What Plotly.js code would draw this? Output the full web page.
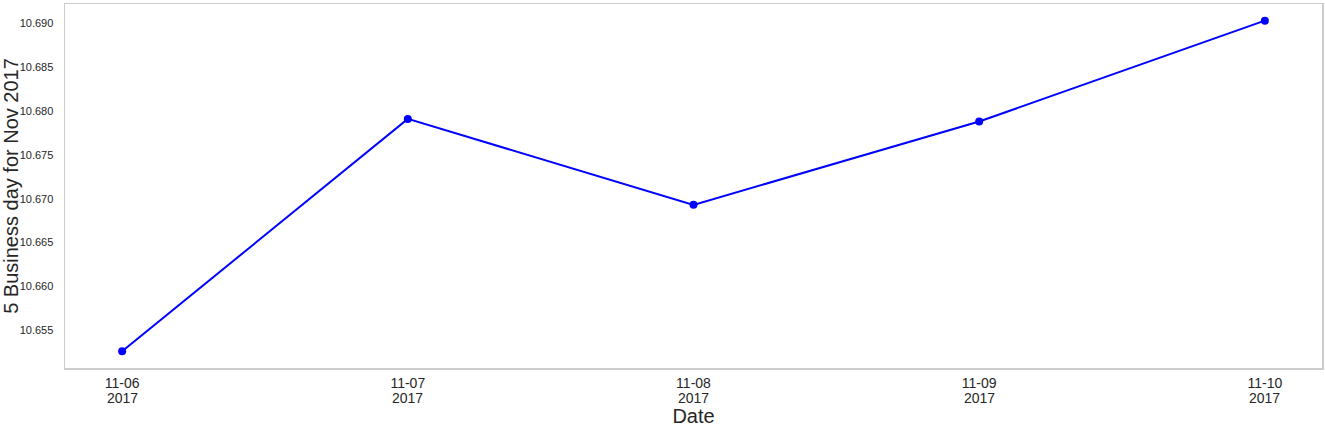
<!DOCTYPE html>
<html>
<head>
<meta charset="utf-8">
<script src="https://cdn.plot.ly/plotly-3.0.1.min.js"></script>
<style>html,body{margin:0;padding:0;background:#fff;}#chart{width:1325px;height:427px;}</style>
</head>
<body>
<div id="chart"></div>
<script>
const dates = ["11-06", "11-07", "11-08", "11-09", "11-10"];
const yearLabel = "2017";
const values = [10.6526, 10.6791, 10.6693, 10.6788, 10.6903];
const yTicks = [10.655, 10.660, 10.665, 10.670, 10.675, 10.680, 10.685, 10.690];
const yTickText = yTicks.map(v => v.toFixed(3));

const trace = {
  x: dates,
  y: values,
  type: "scatter",
  mode: "lines+markers",
  line: {color: "#0000ff", width: 2},
  marker: {color: "#0000ff", size: 8},
  hoverinfo: "x+y"
};

// second line of each date tick label (year), placed on the category axis
const yearAnnotations = dates.map(d => ({
  x: d, xref: "x",
  y: 0, yref: "paper",
  yanchor: "top",
  yshift: -20,
  text: yearLabel,
  showarrow: false,
  font: {size: 14, color: "#262626"}
}));

const layout = {
  width: 1325,
  height: 427,
  margin: {l: 65, r: 3, t: 4, b: 59},
  paper_bgcolor: "#ffffff",
  plot_bgcolor: "#ffffff",
  font: {family: "Arial, 'Liberation Sans', sans-serif", color: "#262626"},
  showlegend: false,
  annotations: yearAnnotations,
  xaxis: {
    type: "category",
    range: [-0.2, 4.2],
    showgrid: false,
    zeroline: false,
    showline: true,
    linecolor: "#cccccc",
    linewidth: 1.5,
    mirror: true,
    ticks: "",
    ticklabelstandoff: 2,
    tickfont: {size: 14, color: "#262626"},
    title: {text: "Date", font: {size: 20, color: "#262626"}, standoff: 19}
  },
  yaxis: {
    range: [10.6507, 10.6922],
    tickvals: yTicks,
    ticktext: yTickText,
    showgrid: false,
    zeroline: false,
    showline: true,
    linecolor: "#cccccc",
    linewidth: 1.5,
    mirror: true,
    ticks: "",
    ticklabelstandoff: 8,
    tickfont: {size: 11, color: "#262626"},
    title: {text: "5 Business day for Nov 2017", font: {size: 20, color: "#262626"}, standoff: 10}
  }
};

Plotly.newPlot("chart", [trace], layout, {displayModeBar: false, staticPlot: true});
</script>
</body>
</html>
